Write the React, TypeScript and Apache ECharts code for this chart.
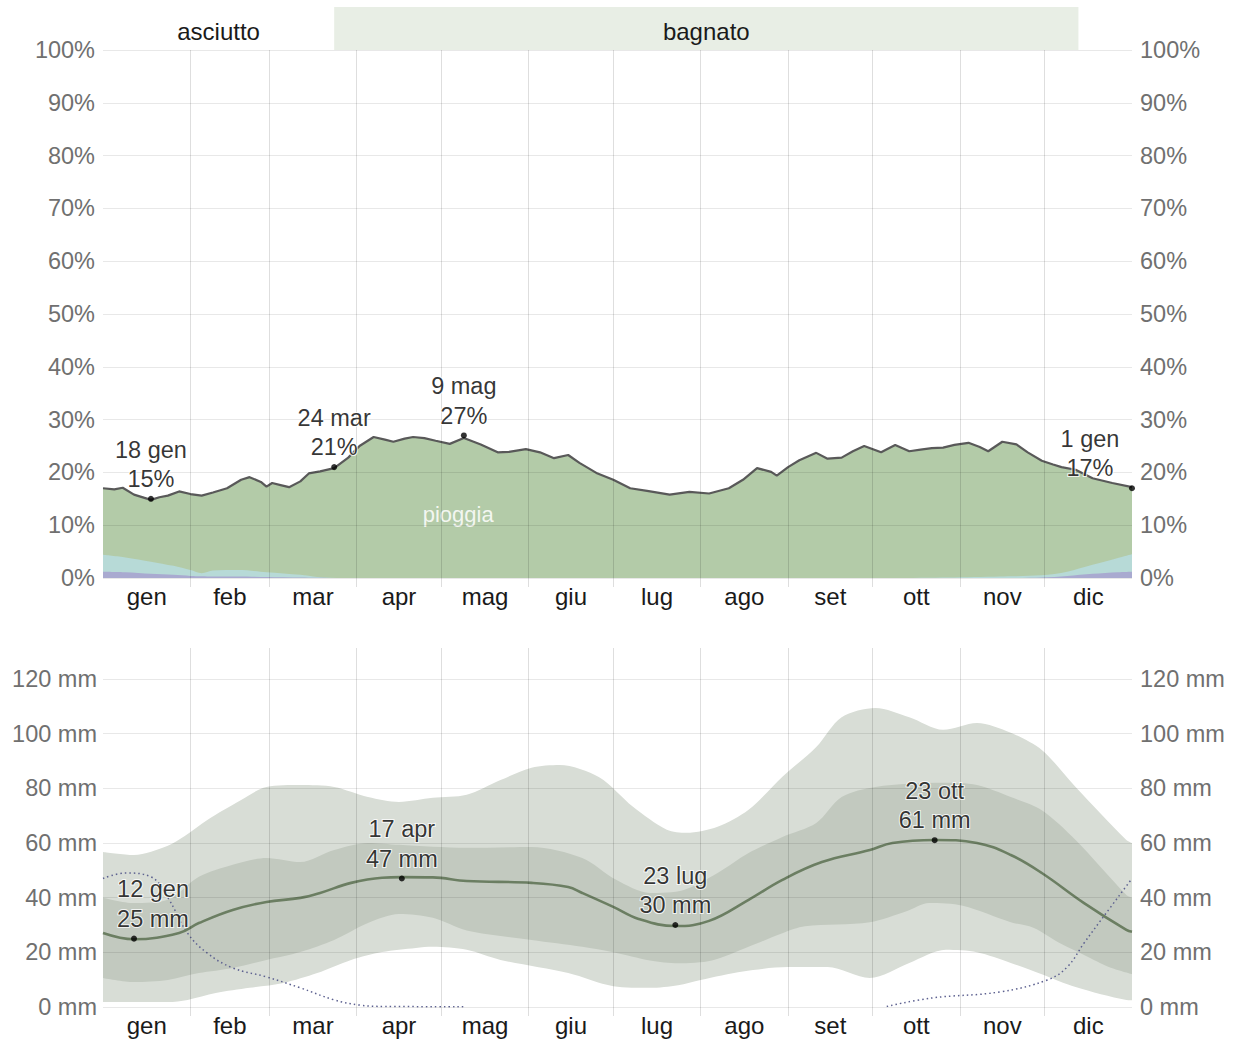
import React, { useEffect, useRef } from 'react';
import * as echarts from 'echarts';

const FONT = '"Liberation Sans", Arial, Helvetica, sans-serif';

const monthNames = ['gen', 'feb', 'mar', 'apr', 'mag', 'giu', 'lug', 'ago', 'set', 'ott', 'nov', 'dic'];
const monthStarts = [31, 59, 90, 120, 151, 181, 212, 243, 273, 304, 334];
const monthMids = [15.5, 45, 74.5, 105, 135.5, 166, 196.5, 227.5, 258, 288.5, 319, 349.5];

// Season band
const seasonNames = ['asciutto', 'bagnato', ''];
const seasonStarts = [0, 82, 346];
const seasonEnds = [82, 346, 365];

// Top chart: probability of precipitation (%)
const probDays = [0, 4, 7, 11, 17, 20, 23, 27, 31, 35, 39, 44, 49, 52, 56, 58, 60, 63, 66, 70, 73, 77, 82, 87, 91, 96, 100, 103, 107, 110, 114, 118, 123, 128, 134, 140, 144, 150, 155, 160, 165, 169, 175, 181, 187, 193, 201, 208, 215, 222, 227, 232, 237, 239, 243, 247, 253, 257, 262, 266, 270, 276, 281, 286, 290, 294, 298, 302, 307, 311, 314, 319, 324, 328, 333, 337, 340, 345, 351, 358, 365];
const probTotal = [17.0, 16.8, 17.1, 15.8, 14.8, 15.3, 15.6, 16.4, 15.9, 15.6, 16.2, 17.0, 18.6, 19.1, 18.2, 17.3, 18.0, 17.6, 17.2, 18.3, 19.8, 20.2, 20.8, 22.8, 25.0, 26.7, 26.2, 25.8, 26.4, 26.7, 26.5, 26.0, 25.4, 26.5, 25.3, 23.8, 23.9, 24.4, 23.8, 22.7, 23.3, 21.8, 19.9, 18.6, 17.0, 16.5, 15.8, 16.3, 16.0, 17.0, 18.6, 20.8, 20.1, 19.4, 21.0, 22.3, 23.7, 22.6, 22.8, 24.0, 25.0, 23.8, 25.2, 24.0, 24.3, 24.6, 24.7, 25.2, 25.6, 24.8, 24.0, 25.8, 25.3, 23.8, 22.2, 21.5, 21.0, 20.5, 18.9, 18.0, 17.2];
const winterDays = [0, 8, 17, 25, 31, 35, 39, 48, 58, 70, 76, 85, 100, 280, 300, 318, 333, 342, 351, 360, 365];
const mixedTop = [4.4, 3.9, 3.1, 2.3, 1.5, 0.9, 1.4, 1.5, 1.1, 0.6, 0.2, 0, 0, 0, 0.1, 0.3, 0.5, 1.2, 2.5, 3.8, 4.5];
const snowTop = [1.2, 1.1, 0.8, 0.6, 0.4, 0.35, 0.3, 0.3, 0.2, 0.1, 0.05, 0, 0, 0, 0, 0, 0.1, 0.4, 0.8, 1.1, 1.2];
const probAnnDays = [17, 82, 128, 365];
const probAnnValues = [15, 21, 27, 17];
const probAnnLabels = ['18 gen', '24 mar', '9 mag', '1 gen'];

// Bottom chart: monthly rainfall (mm)
const medianDays = [0, 11, 27, 34, 46, 58, 70, 77, 88, 99, 106, 117, 129, 152, 165, 170, 181, 190, 203, 215, 229, 241, 255, 272, 280, 295, 310, 322, 333, 348, 363, 365];
const medianMm = [27.1, 24.8, 27.1, 30.7, 35.5, 38.4, 39.9, 41.7, 45.4, 47.3, 47.5, 47.4, 46.1, 45.4, 43.9, 41.7, 36.6, 32.2, 29.6, 31.5, 39.2, 46.5, 53.0, 57.4, 60.0, 61.1, 60.0, 55.6, 49.0, 38.0, 28.2, 27.5];
const p90Days = [0, 11, 23, 29, 37, 49, 58, 70, 82, 94, 105, 117, 129, 141, 152, 162, 176, 188, 200, 207, 218, 229, 241, 253, 262, 274, 286, 298, 310, 322, 333, 345, 363, 365];
const p90Mm = [56.7, 55.6, 59.0, 62.5, 68.4, 75.7, 80.5, 81.2, 80.5, 76.8, 75.0, 76.5, 77.6, 83.0, 87.5, 88.5, 84.0, 73.2, 64.8, 63.7, 65.9, 72.1, 84.2, 95.1, 106.0, 109.4, 106.0, 101.4, 103.9, 100.3, 94.0, 80.5, 61.1, 60.0];
const p75Days = [0, 11, 23, 34, 46, 58, 70, 82, 94, 105, 129, 152, 170, 182, 194, 206, 218, 229, 241, 253, 262, 274, 298, 310, 322, 333, 345, 363, 365];
const p75Mm = [40, 38, 39.2, 47.6, 52, 54.5, 53, 57.4, 60, 59.3, 58.2, 58.5, 54.5, 46.5, 41.7, 42.8, 49, 56.3, 62.2, 67.3, 76.8, 80.5, 82, 81.2, 76.8, 72, 61.1, 41, 40];
const p25Days = [0, 11, 23, 34, 46, 58, 70, 82, 94, 105, 117, 129, 152, 170, 181, 194, 204, 216, 229, 241, 249, 272, 285, 293, 305, 322, 330, 340, 348, 357, 365];
const p25Mm = [10.6, 9.1, 9.9, 12.4, 14.3, 17.2, 20.1, 24.5, 30.7, 34.0, 32.6, 28.0, 24.5, 22.0, 20.0, 17.0, 16.0, 17.0, 22.0, 27.0, 29.5, 31.0, 35.0, 38.0, 37.0, 31.0, 29.0, 23.0, 19.0, 14.5, 12.0];
const p10Days = [0, 11, 23, 30, 40, 52, 64, 76, 88, 99, 111, 117, 129, 141, 165, 181, 194, 204, 212, 227, 243, 257, 272, 286, 299, 310, 322, 333, 345, 363, 365];
const p10Mm = [1.8, 1.8, 1.8, 2.6, 5.1, 7.0, 8.8, 12.4, 17.2, 20.1, 21.6, 22.0, 20.9, 17.2, 12.4, 7.6, 7.0, 8.0, 9.9, 13.0, 14.6, 14.6, 10.6, 16.1, 20.9, 20.0, 16.1, 12.0, 7.3, 2.6, 2.5];
const snowDays = [0, 8, 17, 23, 30, 37, 46, 58, 70, 82, 91, 100, 128, 150, 278, 294, 318, 335, 342, 348, 354, 365];
const snowMm = [47, 49, 47.6, 40, 27, 19.7, 14.3, 11, 7, 2.6, 0.7, 0.2, 0.1, null, 0.2, 3.3, 5.5, 9.9, 14.6, 23.4, 31.8, 47];
const rainAnnDays = [11, 106, 203, 295];
const rainAnnValues = [25, 47, 30, 61];
const rainAnnLabels = ['12 gen', '17 apr', '23 lug', '23 ott'];

const pair = (xs: number[], ys: (number | null)[]) => xs.map((x, i) => [x, ys[i]]);

const monthName = (v: number) => {
  let best = 0;
  monthMids.forEach((m, i) => {
    if (Math.abs(m - v) < Math.abs(monthMids[best] - v)) best = i;
  });
  return monthNames[best];
};

const xAxisFor = (gridIndex: number) => ({
  type: 'value',
  gridIndex,
  min: 0,
  max: 365,
  z: 10,
  axisLine: { show: false },
  axisTick: {
    show: true,
    customValues: monthStarts,
    length: 9,
    lineStyle: { color: 'rgba(0,0,0,0.13)', width: 1 },
  },
  axisLabel: {
    customValues: monthMids,
    formatter: (v: number) => monthName(v),
    margin: 6,
    fontSize: 24,
    color: '#1a1a1a',
    fontFamily: FONT,
  },
  splitLine: { show: true, lineStyle: { color: 'rgba(0,0,0,0.13)', width: 1 } },
});

const yLabel = {
  fontSize: 23.5,
  color: '#707070',
  fontFamily: FONT,
};

const annLabel = {
  show: true,
  position: 'top',
  distance: 2,
  fontSize: 23.5,
  lineHeight: 29.5,
  color: '#000',
  fontFamily: FONT,
  textBorderColor: '#fff',
  textBorderWidth: 2,
  formatter: '{b}',
};

export default function App() {
  const ref = useRef<HTMLDivElement>(null);

  useEffect(() => {
    if (!ref.current) return;
    const chart = echarts.init(ref.current, null, { renderer: 'svg' });

    const probAnn = probAnnDays.map((d, i) => ({
      value: [d, probAnnValues[i]],
      name: `${probAnnLabels[i]}\n${probAnnValues[i]}%`,
      label: i === 3 ? { offset: [-42, 0] } : undefined,
    }));
    const rainAnn = rainAnnDays.map((d, i) => ({
      value: [d, rainAnnValues[i]],
      name: `${rainAnnLabels[i]}\n${rainAnnValues[i]} mm`,
      label: i === 0 ? { offset: [19, 0] } : undefined,
    }));

    const bottomGridColors = [
      'rgba(0,0,0,0.09)', 'rgba(0,0,0,0.09)', 'rgba(0,0,0,0.09)', 'rgba(0,0,0,0.09)',
      'rgba(0,0,0,0.09)', 'rgba(0,0,0,0.09)', 'rgba(0,0,0,0.09)', 'rgba(0,0,0,0)',
    ];

    const option: any = {
      animation: false,
      textStyle: { fontFamily: FONT },
      grid: [
        { left: 103, right: 102, top: 50, height: 528 },
        { left: 103, right: 102, top: 648, height: 359 },
        { left: 103, right: 102, top: 7, height: 43 },
      ],
      xAxis: [
        xAxisFor(0),
        xAxisFor(1),
        { type: 'value', gridIndex: 2, min: 0, max: 365, show: false },
      ],
      yAxis: [
        {
          type: 'value', gridIndex: 0, min: 0, max: 100, interval: 10, position: 'left', z: 10,
          axisLine: { show: false }, axisTick: { show: false },
          axisLabel: { ...yLabel, formatter: '{value}%', margin: 8 },
          splitLine: { show: true, lineStyle: { color: 'rgba(0,0,0,0.09)' } },
        },
        {
          type: 'value', gridIndex: 0, min: 0, max: 100, interval: 10, position: 'right', z: 10,
          axisLine: { show: false }, axisTick: { show: false },
          axisLabel: { ...yLabel, formatter: '{value}%', margin: 8 },
          splitLine: { show: false },
        },
        {
          type: 'value', gridIndex: 1, min: 0, max: 131.3, interval: 20, position: 'left', z: 10,
          axisLine: { show: false }, axisTick: { show: false },
          axisLabel: { ...yLabel, margin: 6, formatter: (v: number) => (v % 20 === 0 ? `${v} mm` : '') },
          splitLine: { show: true, lineStyle: { color: bottomGridColors } },
        },
        {
          type: 'value', gridIndex: 1, min: 0, max: 131.3, interval: 20, position: 'right', z: 10,
          axisLine: { show: false }, axisTick: { show: false },
          axisLabel: { ...yLabel, margin: 8, formatter: (v: number) => (v % 20 === 0 ? `${v} mm` : '') },
          splitLine: { show: false },
        },
        { type: 'value', gridIndex: 2, min: 0, max: 1, show: false },
      ],
      series: [
        // season band
        {
          type: 'line', xAxisIndex: 2, yAxisIndex: 4, data: [[0, 0]], symbol: 'none',
          lineStyle: { width: 0, opacity: 0 }, silent: true,
          markArea: {
            silent: true,
            label: { show: true, position: 'inside', color: '#1a1a1a', fontSize: 24, fontFamily: FONT, offset: [0, 3] },
            data: seasonNames.map((n, i) => [
              { name: n, xAxis: seasonStarts[i], itemStyle: { color: n === 'bagnato' ? '#e8eee5' : 'rgba(0,0,0,0)' } },
              { xAxis: seasonEnds[i] },
            ]),
          },
        },
        // top chart
        {
          type: 'line', xAxisIndex: 0, yAxisIndex: 0, data: pair(probDays, probTotal),
          symbol: 'none', lineStyle: { color: '#595959', width: 2.2 },
          areaStyle: { color: '#b3cba8', opacity: 1 },
          markPoint: {
            silent: true, symbol: 'circle', symbolSize: 0,
            label: { show: true, position: 'inside', formatter: 'pioggia', color: 'rgba(255,255,255,0.85)', fontSize: 22, fontFamily: FONT },
            data: [{ coord: [126, 12] }],
          },
        },
        {
          type: 'line', xAxisIndex: 0, yAxisIndex: 0, data: pair(winterDays, mixedTop),
          symbol: 'none', smooth: 0.3, lineStyle: { width: 0 },
          areaStyle: { color: '#b7dad7', opacity: 1 },
        },
        {
          type: 'line', xAxisIndex: 0, yAxisIndex: 0, data: pair(winterDays, snowTop),
          symbol: 'none', smooth: 0.3, lineStyle: { width: 0 },
          areaStyle: { color: '#a9aad0', opacity: 1 },
        },
        {
          type: 'scatter', xAxisIndex: 0, yAxisIndex: 0, data: probAnn, z: 12,
          symbol: 'circle', symbolSize: 6, itemStyle: { color: '#000' }, label: annLabel,
        },
        // bottom chart
        {
          type: 'line', xAxisIndex: 1, yAxisIndex: 2, data: pair(p90Days, p90Mm),
          symbol: 'none', smooth: 0.3, lineStyle: { width: 0 },
          areaStyle: { color: '#d8ddd6', opacity: 1 },
        },
        {
          type: 'line', xAxisIndex: 1, yAxisIndex: 2, data: pair(p75Days, p75Mm),
          symbol: 'none', smooth: 0.3, lineStyle: { width: 0 },
          areaStyle: { color: '#c2c9bf', opacity: 1 },
        },
        {
          type: 'line', xAxisIndex: 1, yAxisIndex: 2, data: pair(p25Days, p25Mm),
          symbol: 'none', smooth: 0.3, lineStyle: { width: 0 },
          areaStyle: { color: '#d8ddd6', opacity: 1 },
        },
        {
          type: 'line', xAxisIndex: 1, yAxisIndex: 2, data: pair(p10Days, p10Mm),
          symbol: 'none', smooth: 0.3, lineStyle: { width: 0 },
          areaStyle: { color: '#ffffff', opacity: 1 },
        },
        {
          type: 'line', xAxisIndex: 1, yAxisIndex: 2, data: pair(snowDays, snowMm),
          symbol: 'none', smooth: 0.4, connectNulls: false,
          lineStyle: { color: '#5d6190', width: 1.5, type: [1.5, 3] },
        },
        {
          type: 'line', xAxisIndex: 1, yAxisIndex: 2, data: pair(medianDays, medianMm),
          symbol: 'none', smooth: 0.4, lineStyle: { color: '#6b7e62', width: 2.6 },
        },
        {
          type: 'scatter', xAxisIndex: 1, yAxisIndex: 2, data: rainAnn, z: 12,
          symbol: 'circle', symbolSize: 6, itemStyle: { color: '#000' }, label: annLabel,
        },
      ],
    };

    chart.setOption(option);
    return () => chart.dispose();
  }, []);

  return (
    <div
      ref={ref}
      style={{ position: 'absolute', left: 0, top: 0, width: 1234, height: 1041, background: '#fff' }}
    />
  );
}
